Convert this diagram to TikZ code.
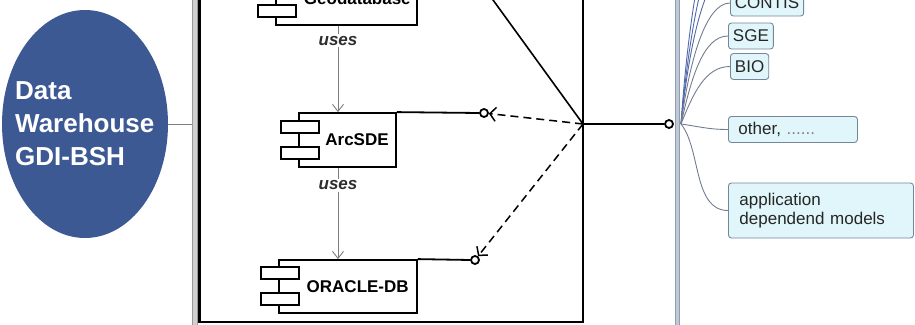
\documentclass[tikz,border=0pt]{standalone}
\usepackage{fontspec}
\setmainfont{Liberation Sans}
\usetikzlibrary{arrows.meta,shapes.geometric}
\definecolor{dwblue}{RGB}{61,89,148}
\definecolor{mmfill}{RGB}{224,246,250}
\definecolor{mmdraw}{RGB}{115,135,155}
\definecolor{mmline}{RGB}{115,125,145}
\definecolor{mmblue}{RGB}{80,105,170}
\definecolor{usesgray}{RGB}{125,125,125}
\definecolor{usestext}{RGB}{45,45,45}
\definecolor{barleft}{RGB}{208,208,208}
\definecolor{barright}{RGB}{190,200,215}
\begin{document}
\begin{tikzpicture}[x=1pt,y=-1pt,
  comp/.style={draw, line width=1.8pt, fill=white, inner sep=0pt},
  tab/.style={draw, line width=1.8pt, fill=white, minimum width=38pt, minimum height=12pt, inner sep=0pt},
  comptext/.style={font=\bfseries\fontsize{17}{20}\selectfont, inner sep=0pt, anchor=east},
  lolli/.style={circle, draw, line width=1.8pt, fill=white, minimum size=8pt, inner sep=0pt},
  solidline/.style={line width=1.8pt},
  dep/.style={line width=1.5pt, dash pattern=on 8pt off 5pt, -{Straight Barb[length=6pt,width=14pt,line width=1.5pt]}},
  usesarrow/.style={draw=usesgray, line width=0.9pt, -{Straight Barb[length=7pt,width=11pt,line width=0.9pt]}},
  useslabel/.style={fill=white, text=usestext, font=\bfseries\itshape\fontsize{17}{20}\selectfont, inner sep=2pt},
  mmbox/.style={draw=mmdraw, fill=mmfill, rounded corners=3pt, line width=0.9pt, font=\fontsize{17}{19}\selectfont, text=black!85, anchor=west, inner xsep=4.5pt, inner ysep=0pt, minimum height=26pt},
  mmcurve/.style={draw=mmline, line width=0.9pt},
  mmcurveb/.style={draw=mmblue, line width=0.9pt}
]
\useasboundingbox (0,0) rectangle (915,324);
\clip (0,0) rectangle (915,324);
\fill[white] (0,0) rectangle (915,324);

% Data warehouse ellipse
\node[ellipse, fill=dwblue, minimum width=166pt, minimum height=228pt, inner sep=0pt] (dw) at (85,124) {};
\node[anchor=west, align=left, text=white, inner sep=0pt, font=\bfseries\fontsize{26}{33}\selectfont] (dwtext) at (15,124) {Data\\Warehouse\\GDI-BSH};

% left bar
\fill[barleft] (192,-5) rectangle (197,330);
\draw[gray!80, line width=0.6pt] (192,-5) -- (192,330) (197,-5) -- (197,330);
\coordinate (lbar) at (192,124);
\draw[gray, line width=1pt] (dw.east) -- (lbar);

% frame
\draw[line width=2.2pt] (199.5,-5) -- (199.5,322) -- (583,322) -- (583,-5);

% components
\node[comp, minimum width=141pt, minimum height=54pt] (geo) at (346.5,-2) {};
\node[tab, anchor=north west] (geot1) at ([xshift=-18pt,yshift=-8pt]geo.north west) {};
\node[tab, anchor=north west] (geot2) at ([xshift=-18pt,yshift=-34pt]geo.north west) {};
\node[comptext] (geol) at ([xshift=-7pt]geo.east) {Geodatabase};

\node[comp, minimum width=97pt, minimum height=54pt] (arc) at (347.5,140) {};
\node[tab, anchor=north west] (arct1) at ([xshift=-18pt,yshift=-8pt]arc.north west) {};
\node[tab, anchor=north west] (arct2) at ([xshift=-18pt,yshift=-34pt]arc.north west) {};
\node[comptext] (arcl) at ([xshift=-8pt]arc.east) {ArcSDE};

\node[comp, minimum width=138pt, minimum height=53pt] (ora) at (348,286.5) {};
\node[tab, anchor=north west] (orat1) at ([xshift=-18pt,yshift=-7pt]ora.north west) {};
\node[tab, anchor=north west] (orat2) at ([xshift=-18pt,yshift=-33pt]ora.north west) {};
\node[comptext] (oral) at ([xshift=-9pt]ora.east) {ORACLE-DB};

% uses arrows
\coordinate (ux) at (338,0);
\draw[usesarrow] (ux |- geo.south) -- (ux |- arc.north) node[useslabel, pos=0.17] (uses1) {uses};
\draw[usesarrow] (ux |- arc.south) -- (ux |- ora.north) node[useslabel, pos=0.19] (uses2) {uses};

% lollipops
\coordinate (geoc) at (472,-29);
\node[lolli] (arcc) at (484,113) {};
\node[lolli] (orac) at (475,260) {};
\draw[solidline] (geo.north east) -- (geoc);
\draw[solidline] (arc.north east) -- (arcc.west);
\draw[solidline] (ora.north east) -- (orac.west);

\coordinate (J) at (583,124);
\draw[line width=1.6pt] (J) -- (geoc);
\draw[dep] (J) -- (arcc);
\draw[dep] (J) -- (orac);
\node[lolli] (outc) at (669,124) {};
\draw[solidline] (J) -- (outc.west);

% right bar
\fill[barright] (675,-5) rectangle (679,330);
\draw[mmdraw!80, line width=0.6pt] (675,-5) -- (675,330) (679,-5) -- (679,330);

% mind map boxes
\node[mmbox] (contis) at (730,3) {CONTIS};
\node[mmbox] (sge) at (728,36) {SGE};
\node[mmbox] (bio) at (730,66.5) {BIO};
\node[mmbox, text width=109pt, align=left, inner xsep=10pt] (other) at (728,129.5) {other, \textcolor{gray}{......}};
\node[mmbox, text width=163pt, align=left, inner xsep=11pt, minimum height=55pt] (appl) at (728,210.5) {application\\dependend models};

\coordinate (O) at (681,124);
\coordinate (off1) at (729,-30);
\coordinate (off2) at (729,-62);
\coordinate (off3) at (729,-95);
\draw[mmcurveb] (O) .. controls +(6,-90) and +(-25,0) .. (off3);
\draw[mmcurveb] (O) .. controls +(7,-80) and +(-25,0) .. (off2);
\draw[mmcurveb] (O) .. controls +(7,-70) and +(-25,0) .. (off1);
\draw[mmcurve] (O) .. controls +(8,-60) and +(-25,0) .. (contis.west);
\draw[mmcurve] (O) .. controls +(10,-45) and +(-25,0) .. (sge.west);
\draw[mmcurve] (O) .. controls +(12,-30) and +(-25,0) .. (bio.west);
\draw[mmcurve] (O) .. controls +(15,2) and +(-20,0) .. (other.west);
\draw[mmcurve] (O) .. controls +(20,25) and +(-35,0) .. (appl.west);
\end{tikzpicture}
\end{document}
